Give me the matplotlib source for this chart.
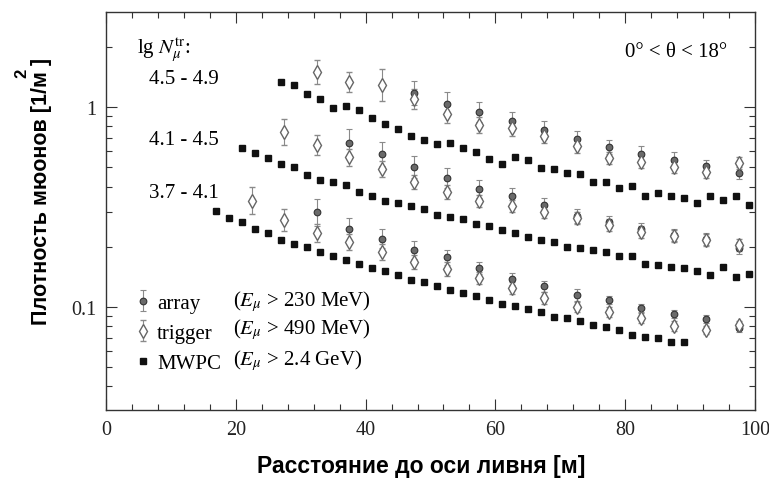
import numpy as np
import matplotlib
matplotlib.use("Agg")
import matplotlib.pyplot as plt
from matplotlib.ticker import FixedLocator, MultipleLocator, LogLocator, NullFormatter, FixedFormatter

plt.rcParams["mathtext.fontset"] = "stix"

nan = np.nan

# MWPC points (E > 2.4 GeV)
r_mwpc_top = [27, 29, 31, 33, 35, 37, 39, 41, 43, 45, 47, 49, 51, 53, 55, 57, 59, 61, 63,
              65, 67, 69, 71, 73, 75, 77, 79, 81, 83, 85, 87, 89, 91, 93, 95, 97, 99]
mwpc_top = [1.34, 1.29, 1.16, 1.10, 0.985, 1.015, 0.97, 0.884, 0.82, 0.776, 0.716, 0.686,
            0.655, 0.658, 0.626, 0.598, 0.550, 0.519, 0.562, 0.543, 0.495, 0.490, 0.470,
            0.461, 0.423, 0.423, 0.392, 0.401, 0.360, 0.372, 0.360, 0.352, 0.331, 0.358,
            0.344, 0.358, 0.325]

r_mwpc_mid = [21, 23, 25, 27, 29, 31, 33, 35, 37, 39, 41, 43, 45, 47, 49, 51, 53, 55, 57, 59,
              61, 63, 65, 67, 69, 71, 73, 75, 77, 79, 81, 83, 85, 87, 89, 91, 93, 95, 97, 99]
mwpc_mid = [0.626, 0.589, 0.556, 0.519, 0.499, 0.457, 0.432, 0.420, 0.407, 0.375, 0.358,
            0.340, 0.330, 0.321, 0.309, 0.288, 0.281, 0.275, 0.260, 0.253, 0.243, 0.234,
            0.225, 0.216, 0.212, 0.200, 0.197, 0.193, 0.188, 0.180, 0.180, 0.164, 0.162,
            0.159, 0.157, 0.151, 0.145, 0.158, 0.141, 0.146]

r_mwpc_low = [17, 19, 21, 23, 25, 27, 29, 31, 33, 35, 37, 39, 41, 43, 45, 47, 49, 51, 53,
              55, 57, 59, 61, 63, 65, 67, 69, 71, 73, 75, 77, 79, 81, 83, 85, 87, 89]
mwpc_low = [0.303, 0.279, 0.265, 0.245, 0.234, 0.217, 0.207, 0.199, 0.189, 0.179, 0.172,
            0.164, 0.157, 0.151, 0.145, 0.136, 0.133, 0.127, 0.121, 0.117, 0.113, 0.108,
            0.104, 0.101, 0.0977, 0.0941, 0.0894, 0.0881, 0.0854, 0.0813, 0.0791, 0.0767,
            0.0724, 0.0710, 0.0697, 0.0666, 0.0666]

# array / trigger points, same distance grid
r_det = [22.5, 27.5, 32.5, 37.5, 42.5, 47.5, 52.5, 57.5, 62.5, 67.5, 72.5, 77.5, 82.5,
         87.5, 92.5, 97.5]

trig_top = [nan, nan, 1.50, 1.33, 1.29, 1.10, 0.923, 0.813, 0.788, 0.719, 0.636, 0.556,
            0.529, 0.499, 0.475, 0.523]
arr_top = [nan, nan, nan, nan, nan, 1.175, 1.035, 0.941, 0.854, 0.770, 0.692, 0.631,
           0.584, 0.545, 0.509, 0.468]
trig_mid = [nan, 0.752, 0.648, 0.560, 0.488, 0.420, 0.376, 0.338, 0.320, 0.300, 0.278,
            0.257, 0.238, 0.226, 0.215, 0.205]
arr_mid = [nan, nan, nan, 0.661, 0.582, 0.499, 0.440, 0.388, 0.357, 0.324, 0.286, 0.267,
           0.245, 0.229, 0.218, 0.198]
trig_low = [0.340, 0.273, 0.234, 0.211, 0.189, 0.168, 0.154, 0.140, 0.125, 0.111, 0.100,
            0.0947, 0.0878, 0.0806, 0.0770, 0.0813]
arr_low = [nan, nan, 0.297, 0.245, 0.219, 0.193, 0.177, 0.157, 0.138, 0.127, 0.115, 0.108,
           0.0985, 0.0923, 0.0871, 0.0785]

# half-widths of the error bars in log10 units
trig_top_err = [nan, nan, 0.06, 0.05, 0.08, 0.05, 0.045, 0.04, 0.04, 0.035, 0.035, 0.03,
                0.03, 0.03, 0.03, 0.03]
arr_top_err = [nan, nan, nan, nan, nan, 0.06, 0.058, 0.05, 0.045, 0.045, 0.042, 0.037,
               0.037, 0.037, 0.03, 0.03]
trig_mid_err = [nan, 0.065, 0.05, 0.042, 0.04, 0.035, 0.035, 0.03, 0.03, 0.03, 0.03, 0.03,
                0.03, 0.03, 0.03, 0.03]
arr_mid_err = [nan, nan, nan, 0.07, 0.06, 0.055, 0.05, 0.045, 0.04, 0.035, 0.035, 0.03,
               0.03, 0.03, 0.03, 0.03]
trig_low_err = [0.068, 0.054, 0.045, 0.04, 0.04, 0.035, 0.035, 0.03, 0.03, 0.03, 0.025,
                0.025, 0.025, 0.025, 0.02, 0.02]
arr_low_err = [nan, nan, 0.067, 0.058, 0.047, 0.045, 0.038, 0.03, 0.032, 0.028, 0.03, 0.02,
               0.02, 0.02, 0.02, 0.02]

group_labels = ["4.5 - 4.9", "4.1 - 4.5", "3.7 - 4.1"]
legend_names = ["array", "trigger", "MWPC"]
legend_cuts = [r"($E_{\mu}$ > 230 MeV)", r"($E_{\mu}$ > 490 MeV)", r"($E_{\mu}$ > 2.4 GeV)"]

serif = "Liberation Serif"
sans = "Liberation Sans"
W, H = 769, 481


def log_err(vals, dex):
    v = np.array(vals, dtype=float)
    d = np.array(dex, dtype=float)
    return [v - v * 10 ** (-d), v * 10 ** d - v]


fig = plt.figure(figsize=(W / 100, H / 100), dpi=100)
ax = fig.add_axes([106 / W, 1 - 411 / H, 649 / W, 398 / H])

arr_style = dict(fmt="o", ms=4.8, mfc="#6a6a6a", mec="#333333", mew=0.8,
                 ecolor="#8a8a8a", elinewidth=0.8, capsize=2.2, capthick=0.8)
trig_style = dict(fmt="d", ms=7.5, mfc="white", mec="#666666", mew=1.0,
                  ecolor="#8a8a8a", elinewidth=0.8, capsize=2.2, capthick=0.8)
mwpc_style = dict(ls="none", marker="s", ms=4.8, color="#111111")

h_arr = None
for vals, errs in [(arr_top, arr_top_err), (arr_mid, arr_mid_err), (arr_low, arr_low_err)]:
    h_arr = ax.errorbar(r_det, vals, yerr=log_err(vals, errs), **arr_style)
h_trig = None
for vals, errs in [(trig_top, trig_top_err), (trig_mid, trig_mid_err), (trig_low, trig_low_err)]:
    h_trig = ax.errorbar(r_det, vals, yerr=log_err(vals, errs), **trig_style)
h_mw = None
for rr, vals in [(r_mwpc_top, mwpc_top), (r_mwpc_mid, mwpc_mid), (r_mwpc_low, mwpc_low)]:
    h_mw, = ax.plot(rr, vals, **mwpc_style)

ax.set_yscale("log")
ax.set_xlim(0, 100)
ax.set_ylim(0.0305, 2.99)

ax.xaxis.set_major_locator(MultipleLocator(20))
ax.xaxis.set_minor_locator(MultipleLocator(4))
ax.yaxis.set_major_locator(FixedLocator([0.01, 0.1, 1, 10]))
ax.yaxis.set_major_formatter(FixedFormatter(["0.01", "0.1", "1", "10"]))
ax.yaxis.set_minor_locator(LogLocator(base=10, subs=np.arange(2, 10)))
ax.yaxis.set_minor_formatter(NullFormatter())

ax.tick_params(which="both", direction="in", top=True, right=True, width=0.8, color="#333333")
ax.tick_params(which="major", length=8, labelsize=14.5, pad=7)
ax.tick_params(which="minor", length=4.5)
for lab in ax.get_xticklabels() + ax.get_yticklabels():
    lab.set_fontfamily(serif)
    lab.set_color("#222222")
for sp in ax.spines.values():
    sp.set_linewidth(1.0)
    sp.set_color("#333333")

# axis titles placed by hand, as in the scanned figure
fig.text(421 / W, 1 - 466 / H, "Расстояние до оси ливня [м]", fontfamily=sans,
         fontweight="bold", fontsize=16.5, ha="center", va="center")
fig.text(42 / W, 1 - 191 / H, "Плотность мюонов [1/м ]", rotation=90, fontfamily=sans,
         fontweight="bold", fontsize=15.5, ha="center", va="center")
fig.text(21.7 / W, 1 - 73 / H, "2", rotation=90, fontfamily=sans, fontweight="bold",
         fontsize=12, ha="center", va="center")

# annotations
ax.text(0.048, 0.907, r"lg $N_{\mu}^{\rm tr}$:", transform=ax.transAxes, fontfamily=serif,
        fontsize=15, va="center", ha="left")
for ypos, lab in zip([0.832, 0.679, 0.547], group_labels):
    ax.text(0.066, ypos, lab, transform=ax.transAxes, fontfamily=serif, fontsize=15,
            va="center", ha="left")
ax.text(0.957, 0.900, "0° < θ < 18°", transform=ax.transAxes, fontfamily=serif,
        fontsize=15, va="center", ha="right")

leg = ax.legend([h_arr, h_trig, h_mw], legend_names, loc="lower left",
                bbox_to_anchor=(0.041, 0.093), frameon=False, handlelength=1.0,
                handletextpad=0.17, labelspacing=0.5, borderaxespad=0, borderpad=0,
                prop={"family": serif, "size": 15})
for ypos, lab in zip([0.276, 0.2035, 0.128], legend_cuts):
    ax.text(0.196, ypos, lab, transform=ax.transAxes, fontfamily=serif, fontsize=15,
            va="center", ha="left")

fig.savefig("out.png", dpi=100)
